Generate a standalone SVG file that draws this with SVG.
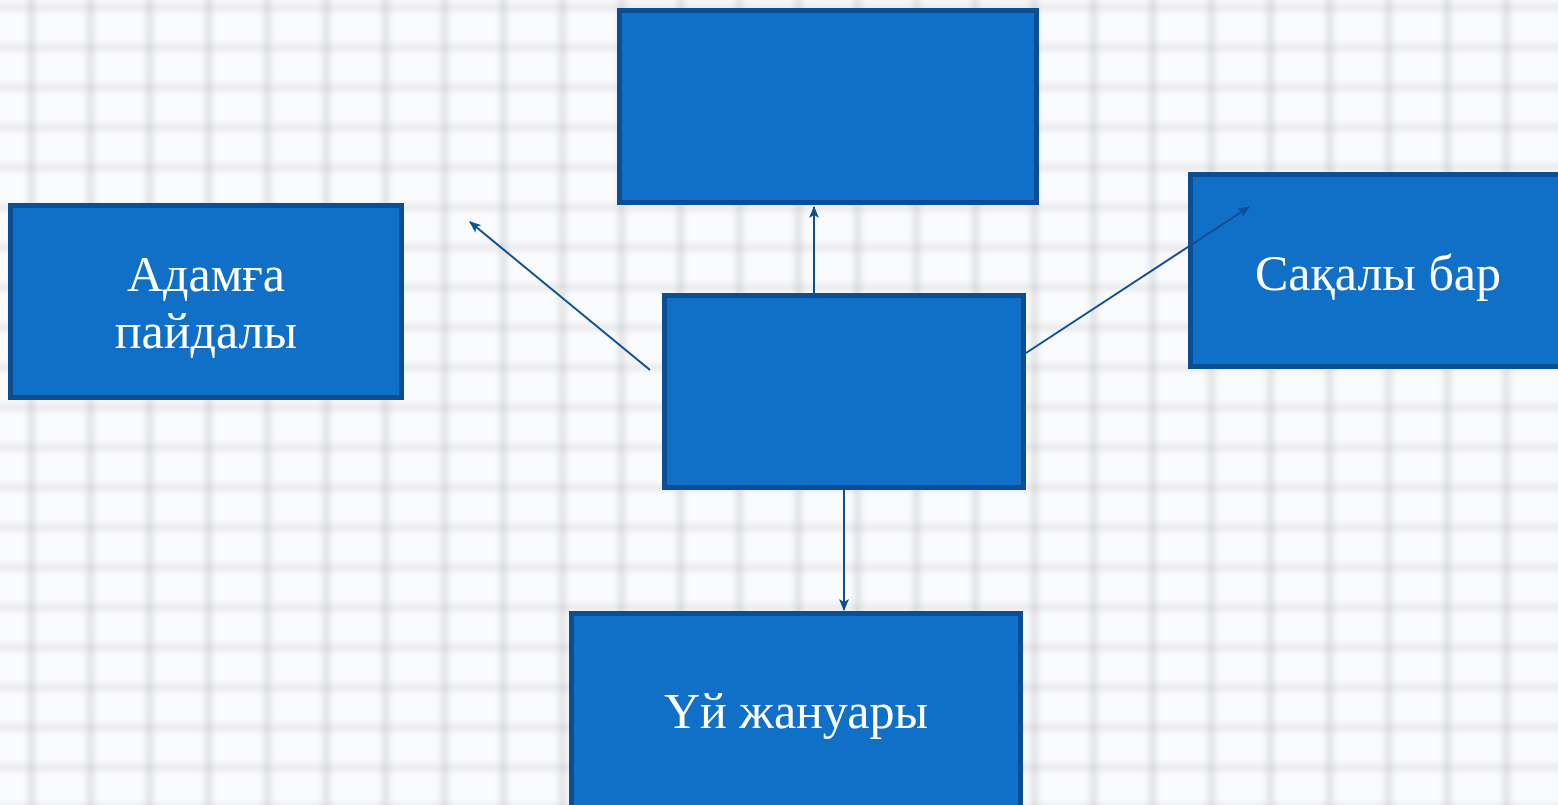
<svg xmlns="http://www.w3.org/2000/svg" width="1558" height="805" viewBox="0 0 1558 805">
<defs>
<pattern id="grid" x="30" y="6" width="59" height="40" patternUnits="userSpaceOnUse">
<rect width="59" height="40" fill="#fafbfd"/>
<line x1="0" y1="0" x2="0" y2="40" stroke="#b4b4ba" stroke-width="6"/>
<line x1="0" y1="0" x2="59" y2="0" stroke="#c4c4c9" stroke-width="5"/>
</pattern>
<filter id="blur" x="0" y="0" width="1" height="1"><feGaussianBlur stdDeviation="3.5"/></filter>
<marker id="ah" viewBox="0 0 12 10" refX="11" refY="5" markerWidth="12" markerHeight="10" markerUnits="userSpaceOnUse" orient="auto">
<path d="M0,0 L12,5 L0,10 L3,5 Z" fill="#0d4f93"/>
</marker>
<style>
.box{fill:#106fc6;stroke:#0a4f94;stroke-width:5}
.lbl{font-family:"Liberation Serif",serif;font-size:50px;fill:#ffffff;text-anchor:middle}
.con{stroke:#0d4f93;stroke-width:2;fill:none;marker-end:url(#ah)}
</style>
</defs>
<rect width="1558" height="805" fill="#fafbfd"/>
<rect x="-10" y="-10" width="1578" height="825" fill="url(#grid)" filter="url(#blur)"/>
<g id="node-top"><rect class="box" x="619.5" y="10.5" width="417" height="192"/></g>
<g id="node-left"><rect class="box" x="10.5" y="205.5" width="391" height="192"/>
<text class="lbl" x="206" y="291">Адамға</text><text class="lbl" x="206" y="348">пайдалы</text></g>
<g id="node-center"><rect class="box" x="664.5" y="295.5" width="359" height="192"/></g>
<g id="node-right"><rect class="box" x="1190.5" y="174.5" width="372" height="192"/>
<text class="lbl" x="1378" y="290">Сақалы бар</text></g>
<g id="node-bottom"><rect class="box" x="571.5" y="613.5" width="449" height="200"/>
<text class="lbl" x="796" y="728">Үй жануары</text></g>
<g id="connectors">
<line class="con" x1="650" y1="370" x2="470" y2="222"/>
<line class="con" x1="814" y1="293" x2="814" y2="207"/>
<line class="con" x1="1026" y1="353" x2="1249" y2="207"/>
<line class="con" x1="844" y1="489" x2="844" y2="610"/>
</g>
</svg>
